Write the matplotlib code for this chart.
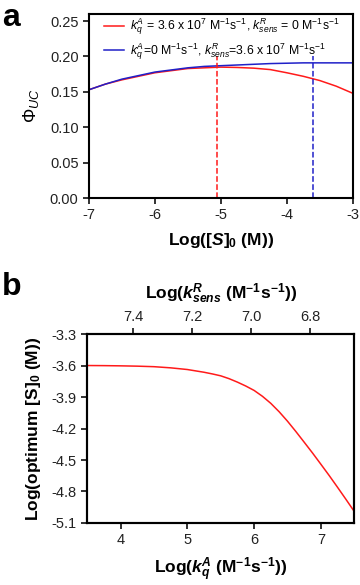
import numpy as np
import matplotlib
matplotlib.use('Agg')
import matplotlib.pyplot as plt
from matplotlib.ticker import FormatStrFormatter

plt.rcParams['font.family'] = ['Liberation Sans', 'DejaVu Sans']
plt.rcParams['mathtext.fontset'] = 'custom'
plt.rcParams['mathtext.rm'] = 'Liberation Sans'
plt.rcParams['mathtext.it'] = 'Liberation Sans:italic'
plt.rcParams['mathtext.bf'] = 'Liberation Sans:bold'
plt.rcParams['mathtext.bfit'] = 'Liberation Sans:italic:bold'
plt.rcParams['axes.unicode_minus'] = False

# panel a: quantum yield vs log([S]0)
log_s0 = [-7.0, -6.75, -6.5, -6.25, -6.0, -5.75, -5.5, -5.25, -5.0,
          -4.75, -4.5, -4.25, -4.0, -3.75, -3.5, -3.25, -3.0]
phi_quench = [0.153, 0.161, 0.167, 0.172, 0.177, 0.180, 0.183, 0.184, 0.185,
              0.1845, 0.1835, 0.1815, 0.177, 0.172, 0.166, 0.158, 0.148]
phi_sens = [0.153, 0.161, 0.168, 0.173, 0.178, 0.181, 0.184, 0.186, 0.187,
            0.188, 0.189, 0.190, 0.1905, 0.191, 0.191, 0.191, 0.191]
opt_quench = -5.06
opt_sens = -3.6
dash_top = 0.20
labels_a = [r'$k_q^A$ = 3.6 x 10$^7$ M$^{-1}$s$^{-1}$, $k_{sens}^R$ = 0 M$^{-1}$s$^{-1}$',
            r'$k_q^A$=0 M$^{-1}$s$^{-1}$, $k_{sens}^R$=3.6 x 10$^7$ M$^{-1}$s$^{-1}$']

# panel b: optimum log([S]0) vs log(kq)
log_kq = [3.5, 3.75, 4.0, 4.25, 4.5, 4.75, 5.0, 5.125, 5.25, 5.375, 5.5,
          5.625, 5.75, 5.875, 6.0, 6.125, 6.25, 6.375, 6.5, 6.625, 6.75,
          6.875, 7.0, 7.125, 7.25, 7.375, 7.5]
log_opt_s0 = [-3.600, -3.601, -3.603, -3.606, -3.611, -3.622, -3.638, -3.651,
              -3.664, -3.680, -3.698, -3.725, -3.758, -3.795, -3.837, -3.893,
              -3.960, -4.040, -4.130, -4.228, -4.330, -4.433, -4.540, -4.648,
              -4.760, -4.874, -4.990]
ksens_ticks = [7.4, 7.2, 7.0, 6.8]

RED = '#ff1a1a'
BLUE = '#2020c8'

fig = plt.figure(figsize=(3.6, 5.85), dpi=100)


def style(ax):
    for sp in ax.spines.values():
        sp.set_linewidth(1.5)
    ax.tick_params(direction='out', length=4, width=1.3, labelsize=10.5,
                   colors='#222222')


# ---- panel a
axa = fig.add_axes([0.247, 0.6615, 0.733, 0.3145])
axa.plot(log_s0, phi_quench, color=RED, lw=1.1, label=labels_a[0])
axa.plot(log_s0, phi_sens, color=BLUE, lw=1.1, label=labels_a[1])
axa.vlines(opt_quench, 0, dash_top, color=RED, ls='--', lw=1.1)
axa.vlines(opt_sens, 0, dash_top, color=BLUE, ls='--', lw=1.1)
axa.set_xlim(-7, -3)
axa.set_ylim(0, 0.26)
axa.set_xticks([-7, -6, -5, -4, -3])
axa.set_yticks(np.arange(0, 0.26, 0.05))
axa.yaxis.set_major_formatter(FormatStrFormatter('%.2f'))
style(axa)
axa.set_xlabel(r'Log([$\mathbfit{S}$]$_\mathbf{0}$ (M))', fontsize=12.5,
               fontweight='bold', labelpad=6)
axa.set_ylabel(r'$\Phi_{UC}$', fontsize=13, labelpad=6)
axa.legend(loc='upper left', bbox_to_anchor=(0.03, 1.025), frameon=False,
           fontsize=8.8, handlelength=1.6, handletextpad=0.5,
           labelspacing=0.35, borderaxespad=0.2)

# ---- panel b
axb = fig.add_axes([0.242, 0.106, 0.742, 0.323])
axb.plot(log_kq, log_opt_s0, color=RED, lw=1.1)
axb.set_xlim(3.5, 7.5)
axb.set_ylim(-5.1, -3.3)
axb.set_xticks([4, 5, 6, 7])
axb.set_yticks(np.arange(-5.1, -3.29, 0.3))
axb.yaxis.set_major_formatter(FormatStrFormatter('%.1f'))
style(axb)
axb.set_xlabel(r'Log($\mathbfit{k}_\mathbfit{q}^\mathbfit{A}$ (M$^{\mathbf{-1}}$s$^{\mathbf{-1}}$))',
               fontsize=12.5, fontweight='bold', labelpad=6)
axb.set_ylabel(r'Log(optimum [S]$_\mathbf{0}$ (M))', fontsize=12.5,
               fontweight='bold', labelpad=6)

top = axb.twiny()
top.set_xlim(7.556, 6.65)
top.set_xticks(ksens_ticks)
top.xaxis.set_major_formatter(FormatStrFormatter('%.1f'))
style(top)
top.set_xlabel(r'Log($\mathbfit{k}^\mathbfit{R}_\mathbfit{sens}$ (M$^{\mathbf{-1}}$s$^{\mathbf{-1}}$))',
               fontsize=12.5, fontweight='bold', labelpad=8)

fig.text(0.005, 0.995, 'a', fontsize=23, fontweight='bold', va='top')
fig.text(0.005, 0.535, 'b', fontsize=23, fontweight='bold', va='top')

fig.savefig('out.png', dpi=100)
